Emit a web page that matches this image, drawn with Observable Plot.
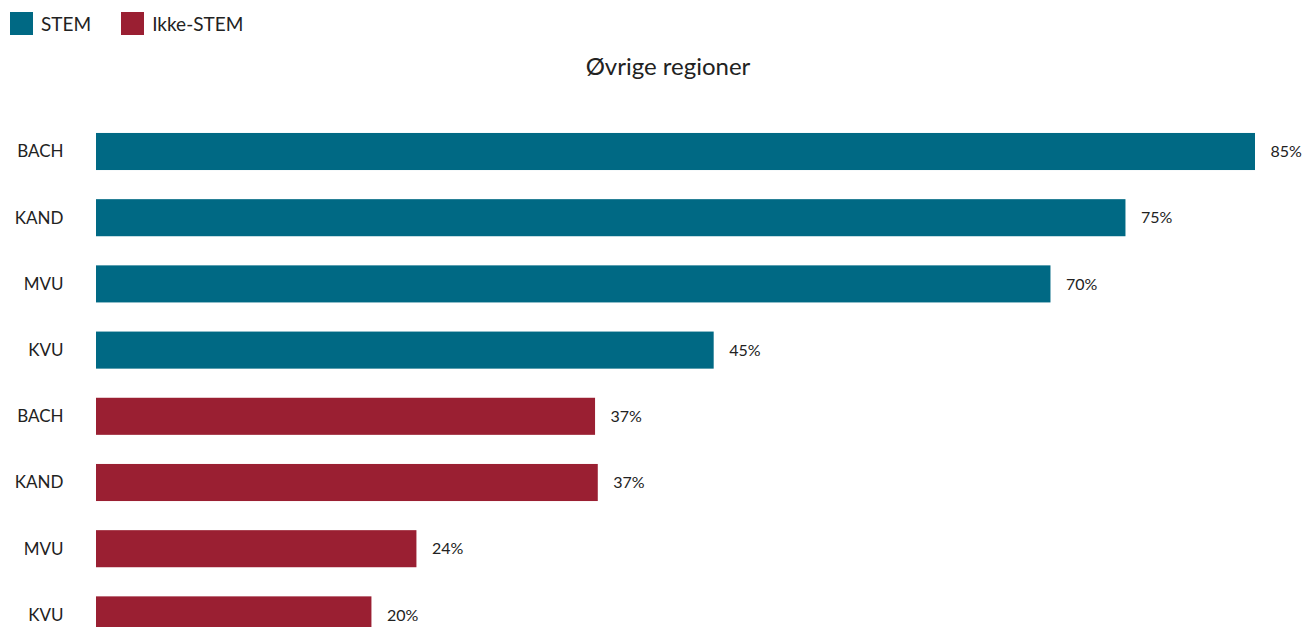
<!DOCTYPE html>
<html>
<head>
<meta charset="utf-8">
<script src="https://cdn.jsdelivr.net/npm/d3@7"></script>
<script src="https://cdn.jsdelivr.net/npm/@observablehq/plot@0.6"></script>
<style>
  html, body { margin: 0; padding: 0; overflow: hidden; background: #fff; width: 1304px; height: 627px; }
  body { position: relative; font-family: Lato, "Open Sans", sans-serif; color: #222; }
  #legend { position: absolute; left: 10px; top: 12px; display: flex; align-items: center; font-size: 19px; line-height: 23px; }
  .item { display: flex; align-items: center; margin-right: 30px; }
  .sw { width: 23px; height: 23px; margin-right: 8px; }
  #title { position: absolute; left: 0; top: 51px; width: 1304px; padding-left: 32px; box-sizing: border-box; text-align: center; font-size: 24px; line-height: 30px; }
  #chart { position: absolute; left: 0; top: 98px; }
</style>
</head>
<body>
<div id="legend"></div>
<div id="title">Øvrige regioner</div>
<div id="chart"></div>
<script>
const categories = ["BACH", "KAND", "MVU", "KVU", "BACH", "KAND", "MVU", "KVU"];
const groups = ["STEM", "STEM", "STEM", "STEM", "Ikke-STEM", "Ikke-STEM", "Ikke-STEM", "Ikke-STEM"];
const values = [85, 75.5, 70, 45.3, 36.6, 36.8, 23.5, 20.2];
const valueLabels = ["85%", "75%", "70%", "45%", "37%", "37%", "24%", "20%"];
const seriesNames = ["STEM", "Ikke-STEM"];
const seriesColors = ["#006984", "#9a1f32"];

const data = categories.map((c, i) => ({key: String(i), cat: c, group: groups[i], value: values[i], label: valueLabels[i]}));

// legend
const legend = document.getElementById("legend");
seriesNames.forEach((s, i) => {
  const it = document.createElement("div");
  it.className = "item";
  const sw = document.createElement("div");
  sw.className = "sw";
  sw.style.background = seriesColors[i];
  const t = document.createElement("span");
  t.textContent = s;
  it.appendChild(sw); it.appendChild(t);
  legend.appendChild(it);
});

const chart = Plot.plot({
  width: 1304,
  height: 550,
  marginTop: 20.4,
  marginBottom: 0,
  marginLeft: 96,
  marginRight: 49,
  style: {fontFamily: "Lato, 'Open Sans', sans-serif", fontSize: "16px", color: "#222", background: "#fff"},
  x: {domain: [0, 85], axis: null},
  y: {domain: data.map(d => d.key), paddingInner: 0.44, paddingOuter: 0.22, round: false, label: null},
  color: {domain: seriesNames, range: seriesColors},
  marks: [
    Plot.barX(data, {x: "value", y: "key", fill: "group"}),
    Plot.text(data, {x: "value", y: "key", text: "label", textAnchor: "start", dx: 15, fontSize: 16, fill: "#222"}),
    Plot.axisY({tickSize: 0, tickPadding: 33, fontSize: 17, tickFormat: k => categories[+k], label: null, color: "#222"})
  ]
});
document.getElementById("chart").appendChild(chart);
</script>
</body>
</html>
